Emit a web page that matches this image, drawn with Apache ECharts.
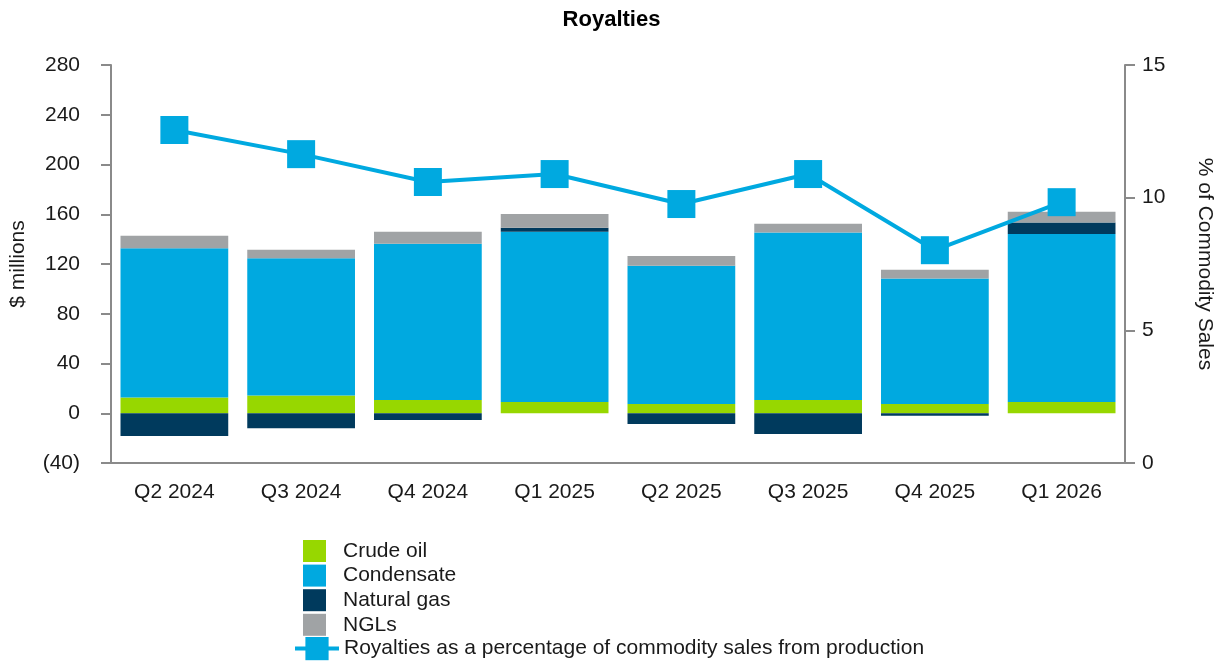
<!DOCTYPE html>
<html>
<head>
<meta charset="utf-8">
<script src="https://cdn.jsdelivr.net/npm/echarts@6/dist/echarts.min.js"></script>
<style>
html,body{margin:0;padding:0;background:#fff;}
#chart{width:1223px;height:664px;}
</style>
</head>
<body>
<div id="chart"></div>
<script>
const categories = ['Q2 2024','Q3 2024','Q4 2024','Q1 2025','Q2 2025','Q3 2025','Q4 2025','Q1 2026'];
const crudeOil   = [12.6, 14.2, 10.7, 9.1, 7.5, 10.7, 7.5, 9.1];
const condensate = [120.1, 110.5, 125.5, 136.8, 111.0, 134.6, 100.8, 135.1];
const naturalGas = [-18.3, -12.1, -5.4, 3.2, -8.6, -16.7, -2.0, 9.1];
const ngls       = [10.0, 6.7, 9.7, 11.2, 8.0, 7.0, 7.0, 8.7];
const royaltyPct = [12.55, 11.64, 10.59, 10.89, 9.76, 10.89, 8.02, 9.83];
const leftTicks = [-40, 280, 40];
const rightTicks = [0, 15, 5];

const FONT = 'Liberation Sans, Arial, sans-serif';
const AXIS_COLOR = '#8a8a8a';
const TXT = '#1a1a1a';
const FS = 21;

const chart = echarts.init(document.getElementById('chart'), null, {renderer:'canvas'});

function barSeries(name, data, color){
  return {
    name, type:'bar', stack:'total', data, barWidth:'85%',
    itemStyle:{color},
    emphasis:{disabled:true}, z:2
  };
}

chart.setOption({
  animation:false,
  backgroundColor:'#fff',
  textStyle:{fontFamily:FONT},
  title:{
    text:'Royalties', left:'center', top:4,
    textStyle:{fontFamily:FONT, fontSize:22, fontWeight:'bold', color:'#000'}
  },
  grid:{left:111, right:96, top:65, bottom:201, containLabel:false},
  legend:[{
    data:['Crude oil','Condensate','Natural gas','NGLs'],
    orient:'vertical', left:298, top:535,
    itemWidth:23, itemHeight:22, itemGap:2.6,
    icon:'rect',
    textStyle:{fontFamily:FONT, fontSize:FS, color:TXT, lineHeight:22, padding:[0,0,0,12]},
    selectedMode:false
  },{
    data:['Royalties as a percentage of commodity sales from production'],
    orient:'vertical', left:288, top:632,
    itemWidth:44, itemHeight:29,
    lineStyle:{width:4},
    textStyle:{fontFamily:FONT, fontSize:FS, color:TXT, lineHeight:22, padding:[0,0,0,0]},
    selectedMode:false
  }],
  xAxis:{
    type:'category', data:categories, boundaryGap:true,
    axisLine:{onZero:false, lineStyle:{color:AXIS_COLOR, width:2}},
    axisTick:{alignWithLabel:true, length:10, lineStyle:{color:AXIS_COLOR, width:2}},
    axisLabel:{fontFamily:FONT, fontSize:FS, color:TXT, margin:19},
    splitLine:{show:false}
  },
  yAxis:[{
    type:'value', min:leftTicks[0], max:leftTicks[1], interval:leftTicks[2],
    name:'$ millions', nameLocation:'middle', nameGap:82, nameRotate:90,
    nameTextStyle:{fontFamily:FONT, fontSize:FS, color:TXT},
    axisLine:{show:true, lineStyle:{color:AXIS_COLOR, width:2}},
    axisTick:{show:true, length:10, lineStyle:{color:AXIS_COLOR, width:2}},
    axisLabel:{fontFamily:FONT, fontSize:FS, color:TXT, margin:31,
      formatter:v => v < 0 ? '(' + Math.abs(v) + ')' : String(v)},
    splitLine:{show:false}
  },{
    type:'value', position:'right', min:rightTicks[0], max:rightTicks[1], interval:rightTicks[2],
    name:'% of Commodity Sales', nameLocation:'middle', nameGap:69, nameRotate:-90,
    nameTextStyle:{fontFamily:FONT, fontSize:FS, color:TXT},
    axisLine:{show:true, lineStyle:{color:AXIS_COLOR, width:2}},
    axisTick:{show:true, length:10, lineStyle:{color:AXIS_COLOR, width:2}},
    axisLabel:{fontFamily:FONT, fontSize:FS, color:TXT, margin:17},
    splitLine:{show:false}
  }],
  series:[
    barSeries('Crude oil', crudeOil, '#97d700'),
    barSeries('Condensate', condensate, '#00a9e0'),
    barSeries('Natural gas', naturalGas, '#003a5d'),
    barSeries('NGLs', ngls, '#a0a3a5'),
    {
      name:'Royalties as a percentage of commodity sales from production',
      type:'line', yAxisIndex:1, data:royaltyPct,
      symbol:'rect', symbolSize:28, showAllSymbol:true,
      lineStyle:{color:'#00a9e0', width:4},
      itemStyle:{color:'#00a9e0'},
      emphasis:{disabled:true}, z:5
    }
  ]
});
</script>
</body>
</html>
